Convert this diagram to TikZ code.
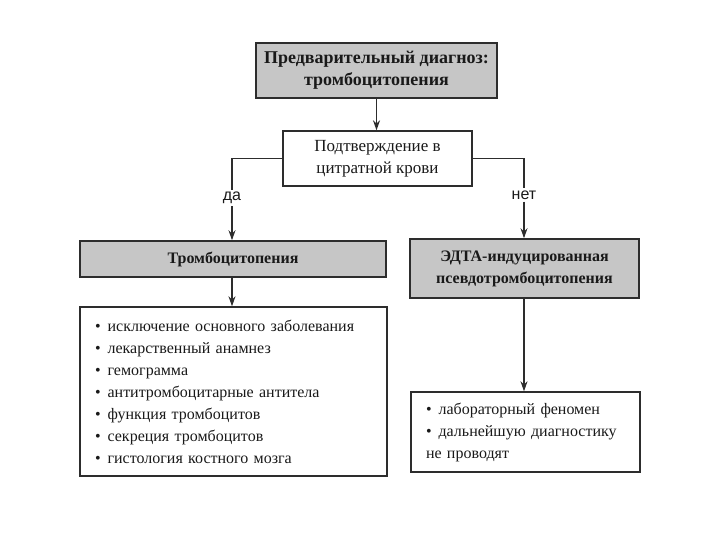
\documentclass[tikz,border=0pt]{standalone}
\usepackage{fontspec}
\setmainfont{Liberation Serif}
\newfontfamily\labelfont{Liberation Sans}
\usepackage{tikz}
\usetikzlibrary{arrows.meta}
\usetikzlibrary{positioning}

\definecolor{boxgray}{RGB}{198,198,198}
\definecolor{linegray}{RGB}{45,45,45}
\newcommand{\itm}{•\hspace{7pt}}

\begin{document}
\begin{tikzpicture}[x=1pt, y=-1pt,
  every node/.style={font=\fontsize{16}{22}\selectfont, text=black!90},
  graybox/.style={draw=linegray, line width=1.6pt, fill=boxgray, align=center,
    inner sep=0pt, font=\fontsize{16}{22}\selectfont\bfseries},
  whitebox/.style={draw=linegray, line width=1.4pt, fill=white, align=center,
    inner sep=0pt, font=\fontsize{17}{22}\selectfont},
  listbox/.style={draw=linegray, line width=1.4pt, align=left, inner ysep=0pt, inner xsep=15pt},
  answer/.style={font=\fontsize{16}{18}\selectfont\labelfont, inner sep=2pt},
  conn/.style={draw=linegray, line width=1.1pt},
  arr/.style={conn, -{Stealth[length=10pt, width=7pt]}}
]
\useasboundingbox (0,0) rectangle (720,540);

% Диагноз и проверка
\node[graybox, line width=2pt, minimum width=241pt, minimum height=55pt,
  font=\fontsize{18}{22}\selectfont\bfseries] (diag) at (376.5,70.5)
  {Предварительный диагноз:\\тромбоцитопения};
\node[whitebox, minimum width=189pt, minimum height=55pt] (check) at (377.5,158.5)
  {Подтверждение в\\цитратной крови};
\draw[arr] (diag.south) -- (diag.south |- check.north);

% Ответы
\node[answer] (yes) at (232,198) {да};
\node[answer] (no) at (524,195) {нет};
\draw[conn] (check.west) -| (yes);
\draw[conn] (check.east) -| (no);

% Левая ветвь
\node[graybox, minimum width=306pt, minimum height=36pt] (thrombo) at (233,259) {Тромбоцитопения};
\draw[arr] (yes) -- (yes |- thrombo.north);
\node[listbox, text width=277pt, minimum height=169pt] (tests) at (233.5,391.5)
  {\itm исключение основного заболевания\\
   \itm лекарственный анамнез\\
   \itm гемограмма\\
   \itm антитромбоцитарные антитела\\
   \itm функция тромбоцитов\\
   \itm секреция тромбоцитов\\
   \itm гистология костного мозга};
\draw[arr] (thrombo.south -| yes) -- (yes |- tests.north);

% Правая ветвь
\node[listbox, text width=199pt, minimum height=80pt] (lab) at (525.5,432)
  {\itm лабораторный феномен\\
   \itm дальнейшую диагностику\\
   не проводят};
\node[graybox, minimum width=229pt, minimum height=59pt] (edta) at (524.5,268.5)
  {ЭДТА-индуцированная\\псевдотромбоцитопения};
\draw[arr] (no) -- (no |- edta.north);
\draw[arr] (edta.south -| no) -- (no |- lab.north);
\end{tikzpicture}
\end{document}
